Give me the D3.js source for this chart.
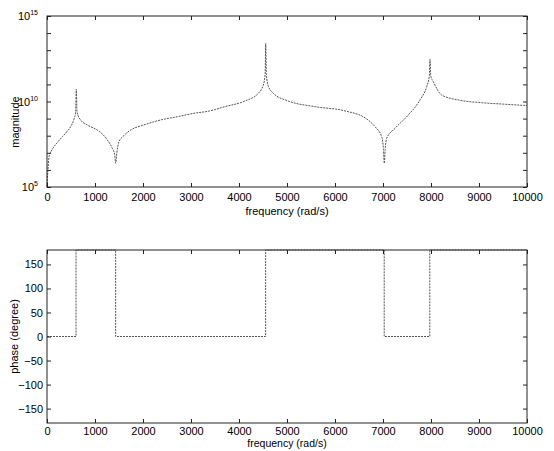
<!DOCTYPE html>
<html>
<head>
<meta charset="utf-8">
<script src="https://cdn.jsdelivr.net/npm/d3@7/dist/d3.min.js"></script>
<style>
  body { margin: 0; background: #fff; }
  svg { font-family: "Liberation Sans", Arial, sans-serif; }
  .tick text { font-size: 11px; fill: #000; }
  .tick line { stroke: #222; }
</style>
</head>
<body>
<svg class="chart"></svg>
<script>
var width = 554,
	height = 451;

// magnitude response (frequency in rad/s, log10 of magnitude)
var magFreq = [0, 8, 20, 42, 90, 146, 230, 320, 410, 493, 560, 597, 611, 625, 700, 840,
	1048, 1160, 1257, 1361, 1410, 1431, 1455, 1500, 1600, 1743, 2021, 2368, 2715, 3062,
	3375, 3708, 4125, 4402, 4506, 4545, 4556, 4570, 4610, 4715, 5027, 5583, 6208, 6650,
	6833, 6972, 7010, 7027, 7045, 7077, 7250, 7527, 7771, 7910, 7965, 7979, 7995, 8048,
	8223, 8569, 9056, 9542, 10000];
var magLog = [5.0, 5.5, 6.0, 6.77, 7.1, 7.36, 7.65, 7.94, 8.22, 8.53, 8.95, 9.4, 10.71, 9.4, 8.92, 8.63,
	8.33, 8.08, 7.75, 7.26, 6.9, 6.39, 7.0, 7.65, 8.0, 8.33, 8.63, 8.92, 9.11, 9.31,
	9.44, 9.70, 10.03, 10.48, 10.96, 11.6, 13.4, 11.6, 10.9, 10.48, 10.03, 9.70, 9.45, 9.0,
	8.53, 7.94, 7.2, 6.39, 7.2, 7.85, 8.43, 9.21, 10.09, 10.87, 11.5, 12.47, 11.5, 11.16,
	10.38, 10.09, 9.93, 9.84, 9.76];

// phase jumps between 0 and 180 degrees
var phaseFreq = [0, 605, 1430, 4555, 7025, 7975, 10000];
var phaseDeg = [0, 180, 0, 180, 0, 180, 180];

var freqTicks = d3.range(0, 10001, 1000);
var magTicks = d3.range(5, 16).map(function(e) { return Math.pow(10, e); });
var magLabelled = [5, 10, 15];
var phaseTicks = [-150, -100, -50, 0, 50, 100, 150];

var left = 47, right = 527;
var top1 = 16, bot1 = 187;
var top2 = 250, bot2 = 423;

var chart = d3.select(".chart")
	.attr("width", width)
	.attr("height", height);

var x = d3.scaleLinear().domain([0, 10000]).range([left, right]);
var yMag = d3.scaleLog().domain([1e5, 1e15]).range([bot1, top1]);
var yPh = d3.scaleLinear().domain([-180, 180]).range([bot2, top2]);

function frame(top, bot) {
	chart.append("rect")
		.attr("x", left)
		.attr("y", top)
		.attr("width", right - left)
		.attr("height", bot - top)
		.attr("fill", "none")
		.attr("stroke", "#222")
		.attr("stroke-width", 1);
}

function xAxes(top, bot, pad, labelY, labelSize) {
	chart.append("g")
		.attr("transform", "translate(0," + bot + ")")
		.call(d3.axisBottom(x).tickValues(freqTicks).tickSize(-4).tickSizeOuter(0).tickPadding(pad).tickFormat(d3.format("d")))
		.call(function(g) { g.select(".domain").remove(); });
	chart.append("g")
		.attr("transform", "translate(0," + top + ")")
		.call(d3.axisTop(x).tickValues(freqTicks).tickSize(-4).tickSizeOuter(0).tickFormat(""))
		.call(function(g) { g.select(".domain").remove(); });
	chart.append("text")
		.attr("x", (left + right) / 2)
		.attr("y", labelY)
		.attr("text-anchor", "middle")
		.attr("font-size", labelSize)
		.attr("fill", "#000")
		.text("frequency (rad/s)");
}

// top plot: magnitude
var magData = magFreq.map(function(f, i) { return { f: f, m: Math.pow(10, magLog[i]) }; });

chart.append("path")
	.datum(magData)
	.attr("fill", "none")
	.attr("stroke", "#555")
	.attr("stroke-width", 1)
	.attr("stroke-dasharray", "2,1")
	.attr("d", d3.line()
		.x(function(d) { return x(d.f); })
		.y(function(d) { return yMag(d.m); })
		.curve(d3.curveMonotoneX));

var magAxis = chart.append("g")
	.attr("transform", "translate(" + left + ",0)")
	.call(d3.axisLeft(yMag).tickValues(magTicks).tickSize(-4).tickPadding(4).tickFormat(""))
	.call(function(g) { g.select(".domain").remove(); });

magAxis.selectAll(".tick")
	.filter(function(d) { return magLabelled.indexOf(Math.round(Math.log10(d))) >= 0; })
	.append("text")
	.attr("x", -9)
	.attr("dy", "0.35em")
	.attr("text-anchor", "end")
	.attr("fill", "#000")
	.attr("font-size", "11px")
	.text("10")
	.append("tspan")
	.attr("dy", "-5")
	.attr("font-size", "7px")
	.text(function(d) { return Math.round(Math.log10(d)); });

chart.append("g")
	.attr("transform", "translate(" + right + ",0)")
	.call(d3.axisRight(yMag).tickValues(magTicks).tickSize(-4).tickFormat(""))
	.call(function(g) { g.select(".domain").remove(); });

xAxes(top1, bot1, 6, bot1 + 28, "11px");
frame(top1, bot1);

chart.append("text")
	.attr("transform", "translate(19,122) rotate(-90)")
	.attr("text-anchor", "middle")
	.attr("font-size", "11px")
	.attr("fill", "#000")
	.text("magnitude");

// bottom plot: phase
var phaseData = phaseFreq.map(function(f, i) { return { f: f, p: phaseDeg[i] }; });

chart.append("path")
	.datum(phaseData)
	.attr("fill", "none")
	.attr("stroke", "#555")
	.attr("stroke-width", 1)
	.attr("stroke-dasharray", "2,1")
	.attr("d", d3.line()
		.x(function(d) { return x(d.f); })
		.y(function(d) { return yPh(d.p); })
		.curve(d3.curveStepAfter));

chart.append("g")
	.attr("transform", "translate(" + left + ",0)")
	.call(d3.axisLeft(yPh).tickValues(phaseTicks).tickSize(-4).tickPadding(4))
	.call(function(g) { g.select(".domain").remove(); });

chart.append("g")
	.attr("transform", "translate(" + right + ",0)")
	.call(d3.axisRight(yPh).tickValues(phaseTicks).tickSize(-4).tickFormat(""))
	.call(function(g) { g.select(".domain").remove(); });

xAxes(top2, bot2, 4, 447, "10.5px");
frame(top2, bot2);

chart.append("text")
	.attr("transform", "translate(18," + ((top2 + bot2) / 2) + ") rotate(-90)")
	.attr("text-anchor", "middle")
	.attr("font-size", "11px")
	.attr("fill", "#000")
	.text("phase (degree)");
</script>
</body>
</html>
